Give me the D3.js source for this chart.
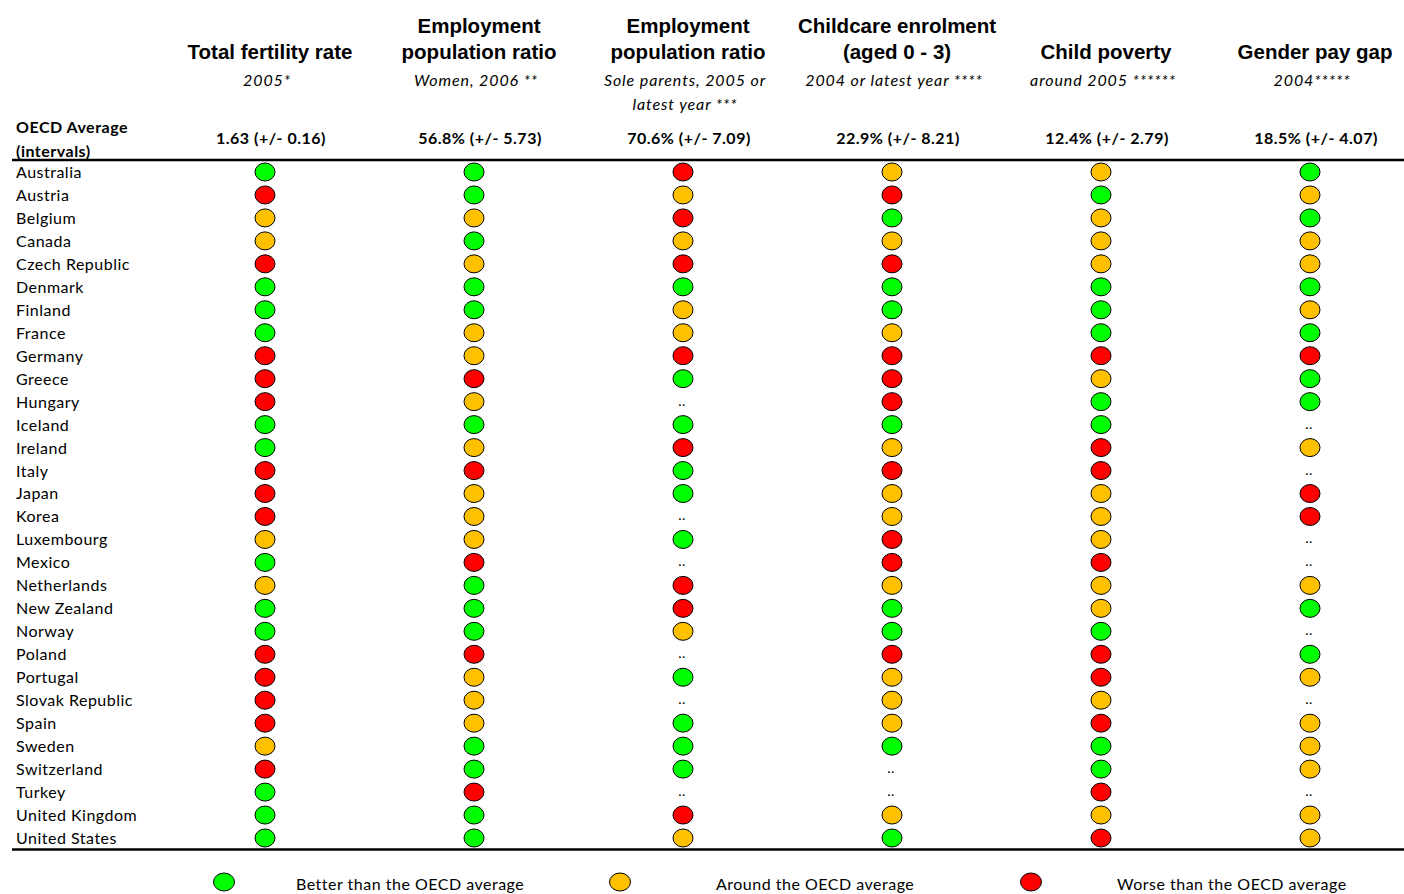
<!DOCTYPE html>
<html>
<head>
<meta charset="utf-8">
<script src="https://cdn.jsdelivr.net/npm/d3@7"></script>
<style>
  html, body { margin: 0; padding: 0; background: #fff; }
  svg { display: block; }
</style>
</head>
<body>
<svg id="chart" width="1404" height="894"></svg>
<script>
// Countries, in table order
const countries = [
  "Australia", "Austria", "Belgium", "Canada", "Czech Republic", "Denmark",
  "Finland", "France", "Germany", "Greece", "Hungary", "Iceland", "Ireland",
  "Italy", "Japan", "Korea", "Luxembourg", "Mexico", "Netherlands",
  "New Zealand", "Norway", "Poland", "Portugal", "Slovak Republic", "Spain",
  "Sweden", "Switzerland", "Turkey", "United Kingdom", "United States"
];

// Indicator headers
const titles = [
  ["Total fertility rate"],
  ["Employment", "population ratio"],
  ["Employment", "population ratio"],
  ["Childcare enrolment", "(aged 0 - 3)"],
  ["Child poverty"],
  ["Gender pay gap"]
];
const subtitles = [
  ["2005*"],
  ["Women, 2006 **"],
  ["Sole parents, 2005 or", "latest year ***"],
  ["2004 or latest year ****"],
  ["around 2005 ******"],
  ["2004*****"]
];
const averages = [
  "1.63 (+/- 0.16)", "56.8% (+/- 5.73)", "70.6% (+/- 7.09)",
  "22.9% (+/- 8.21)", "12.4% (+/- 2.79)", "18.5% (+/- 4.07)"
];

// Ratings: B = better, A = around, W = worse, ".." = not available
const fertility = ["B","W","A","A","W","B","B","B","W","W","W","B","B","W","W","W","A","B","A","B","B","W","W","W","W","A","W","B","B","B"];
const empWomen = ["B","B","A","B","A","B","B","A","A","W","A","B","A","W","A","A","A","W","B","B","B","W","A","A","A","B","B","W","B","B"];
const empSoleParents = ["W","A","W","A","W","B","A","A","W","B","..","B","W","B","B","..","B","..","W","W","A","..","B","..","B","B","B","..","W","A"];
const childcare = ["A","W","B","A","W","B","B","A","W","W","W","B","A","W","A","A","W","W","A","B","B","W","A","A","A","B","..","..","A","B"];
const childPoverty = ["A","B","A","A","A","B","B","B","W","A","B","B","W","W","A","A","A","W","A","A","B","W","W","A","W","B","B","W","A","W"];
const payGap = ["B","A","B","A","A","B","A","B","W","B","B","..","A","..","W","W","..","..","A","B","..","B","A","..","A","A","A","..","A","A"];

const indicators = [fertility, empWomen, empSoleParents, childcare, childPoverty, payGap];

const legendKeys = ["B", "A", "W"];
const legendLabels = ["Better than the OECD average", "Around the OECD average", "Worse than the OECD average"];

const colour = d3.scaleOrdinal()
  .domain(["B", "A", "W"])
  .range(["#00ff00", "#ffc000", "#ff0000"]);

const svg = d3.select("#chart");

const headFont = "'Liberation Sans', Arial, sans-serif";
const bodyFont = "Lato, 'Open Sans', sans-serif";

// Scales
const x = d3.scalePoint()
  .domain(d3.range(indicators.length))
  .range([265, 1310]);

const y = d3.scalePoint()
  .domain(countries)
  .range([172, 838]);

// Header titles (bold, bottom-aligned), subtitles and OECD averages
const head = svg.append("g");
titles.forEach((lines, i) => {
  const cx = x(i) + 5;
  lines.forEach((t, j) => {
    head.append("text")
      .attr("x", cx)
      .attr("y", 59 - (lines.length - 1 - j) * 26)
      .attr("text-anchor", "middle")
      .attr("font-family", headFont)
      .attr("font-weight", "bold")
      .attr("font-size", 20.5)
      .attr("fill", "#000")
      .text(t);
  });
  subtitles[i].forEach((t, j) => {
    head.append("text")
      .attr("x", x(i) + 2)
      .attr("y", 86 + j * 24)
      .attr("text-anchor", "middle")
      .attr("font-family", bodyFont)
      .attr("font-style", "italic")
      .attr("font-size", 16)
      .attr("letter-spacing", 0.9)
      .attr("fill", "#000")
      .text(t);
  });
  head.append("text")
    .attr("x", x(i) + 6)
    .attr("y", 144)
    .attr("text-anchor", "middle")
    .attr("font-family", bodyFont)
    .attr("font-weight", "bold")
    .attr("font-size", 16)
    .attr("letter-spacing", 0.5)
    .attr("fill", "#000")
    .text(averages[i]);
});

head.append("text")
  .attr("x", 16).attr("y", 133)
  .attr("font-family", bodyFont).attr("font-weight", "bold").attr("font-size", 16)
  .attr("letter-spacing", 0.5)
  .text("OECD Average");
head.append("text")
  .attr("x", 16).attr("y", 157)
  .attr("font-family", bodyFont).attr("font-weight", "bold").attr("font-size", 16)
  .attr("letter-spacing", 0.5)
  .text("(intervals)");

// Rules above and below the table body
svg.append("line")
  .attr("x1", 12).attr("x2", 1404).attr("y1", 160).attr("y2", 160)
  .attr("stroke", "#000").attr("stroke-width", 2.5);
svg.append("line")
  .attr("x1", 12).attr("x2", 1404).attr("y1", 849.5).attr("y2", 849.5)
  .attr("stroke", "#000").attr("stroke-width", 2.5);

// Country labels via a left axis
const yAxis = d3.axisLeft(y).tickSize(0).tickPadding(0);
const yg = svg.append("g")
  .attr("transform", "translate(16,0)")
  .call(yAxis);
yg.select(".domain").remove();
yg.selectAll("text")
  .attr("text-anchor", "start")
  .attr("dy", "0.34em")
  .attr("font-family", bodyFont)
  .attr("font-size", 16)
  .attr("letter-spacing", 0.5)
  .attr("fill", "#000");

// Traffic-light cells
const cells = [];
indicators.forEach((vals, i) => {
  vals.forEach((v, r) => cells.push({ col: i, country: countries[r], v }));
});

const body = svg.append("g");
body.selectAll("ellipse")
  .data(cells.filter(d => d.v !== ".."))
  .join("ellipse")
  .attr("cx", d => x(d.col))
  .attr("cy", d => y(d.country))
  .attr("rx", 10)
  .attr("ry", 9)
  .attr("fill", d => colour(d.v))
  .attr("stroke", "#000")
  .attr("stroke-width", 1);

body.selectAll("text.na")
  .data(cells.filter(d => d.v === ".."))
  .join("text")
  .attr("class", "na")
  .attr("x", d => x(d.col) - 1)
  .attr("y", d => y(d.country) + 4)
  .attr("text-anchor", "middle")
  .attr("font-family", bodyFont)
  .attr("font-size", 14)
  .attr("letter-spacing", 0.5)
  .attr("fill", "#000")
  .text("..");

// Legend
const legendCircle = d3.scaleOrdinal()
  .domain(legendKeys)
  .range([224, 620, 1031]);
const legendText = d3.scaleOrdinal()
  .domain(legendKeys)
  .range([296, 716, 1117]);

const lg = svg.append("g");
lg.selectAll("ellipse")
  .data(legendKeys)
  .join("ellipse")
  .attr("cx", d => legendCircle(d))
  .attr("cy", 882)
  .attr("rx", 10.5)
  .attr("ry", 9)
  .attr("fill", d => colour(d))
  .attr("stroke", "#000")
  .attr("stroke-width", 1);
lg.selectAll("text")
  .data(legendKeys)
  .join("text")
  .attr("x", d => legendText(d))
  .attr("y", 890)
  .attr("font-family", bodyFont)
  .attr("font-size", 16)
  .attr("letter-spacing", 0.5)
  .attr("fill", "#000")
  .text((d, i) => legendLabels[i]);
</script>
</body>
</html>
